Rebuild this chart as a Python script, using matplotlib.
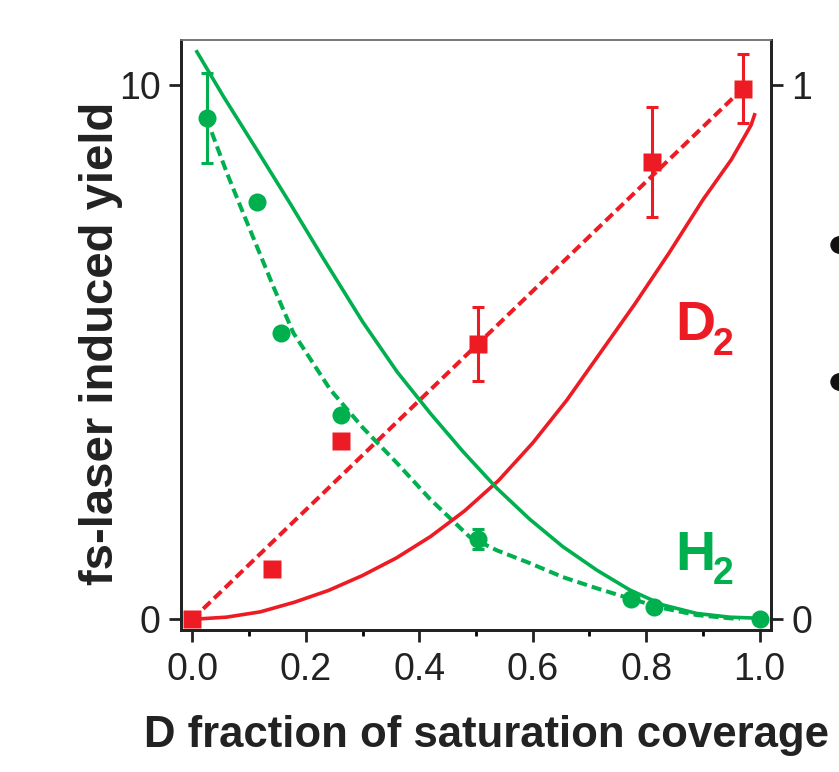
import numpy as np
import matplotlib.pyplot as plt
from matplotlib.patches import Circle

plt.rcParams['font.family'] = ['Liberation Sans', 'DejaVu Sans']

green = '#00b04f'
red = '#ed1c24'

# measured points
cov_h2 = [0.025, 0.114, 0.157, 0.262, 0.504, 0.773, 0.813, 1.0]
yld_h2 = [9.38, 7.81, 5.36, 3.82, 1.50, 0.38, 0.23, 0.0]
err_h2 = [0.85, 0, 0, 0, 0.19, 0, 0, 0]

cov_d2 = [0.0, 0.141, 0.262, 0.504, 0.81, 0.97]
yld_d2 = [0.0, 0.94, 3.33, 5.15, 8.56, 9.93]
err_d2 = [0, 0, 0, 0.7, 1.03, 0.65]

# model curves (solid)
fit_d2_x = [0.0, 0.06, 0.12, 0.18, 0.24, 0.30, 0.36, 0.42, 0.48, 0.54, 0.60, 0.66,
            0.72, 0.78, 0.84, 0.90, 0.95, 0.977, 0.985, 0.991]
fit_d2_y = [0.0, 0.04, 0.14, 0.32, 0.54, 0.82, 1.15, 1.55, 2.03, 2.60, 3.30, 4.10,
            5.00, 5.90, 6.85, 7.85, 8.60, 9.10, 9.25, 9.44]
fit_h2_x = [0.008, 0.055, 0.114, 0.173, 0.231, 0.30, 0.361, 0.419, 0.477, 0.537, 0.595,
            0.653, 0.713, 0.771, 0.829, 0.889, 0.947, 1.0]
fit_h2_y = [10.62, 9.78, 8.78, 7.77, 6.75, 5.57, 4.63, 3.86, 3.14, 2.45, 1.87,
            1.36, 0.92, 0.55, 0.27, 0.11, 0.04, 0.02]

# guide lines (dashed)
guide_d2_x = [0.0, 0.97]
guide_d2_y = [0.0, 9.93]
guide_h2_x = [0.025, 0.037, 0.061, 0.085, 0.114, 0.143, 0.178, 0.243, 0.301, 0.361,
              0.419, 0.489, 0.537, 0.595, 0.653, 0.713, 0.771, 0.829, 0.889, 0.947, 0.965]
guide_h2_y = [9.38, 9.03, 8.35, 7.72, 6.97, 6.22, 5.36, 4.30, 3.58, 2.92,
              2.25, 1.54, 1.29, 1.05, 0.79, 0.58, 0.39, 0.21, 0.08, 0.02, 0.01]

fig = plt.figure(figsize=(8.39, 7.72), dpi=100)
ax = fig.add_axes([181/839, 1-630/772, 590/839, 590/772])

dash = (0, (2.5, 1.25))
ax.plot(guide_d2_x, guide_d2_y, color=red, lw=2.9, ls=dash)
ax.plot(guide_h2_x, guide_h2_y, color=green, lw=2.9, ls=dash)
ax.plot(fit_d2_x, fit_d2_y, color=red, lw=2.6, solid_joinstyle='round')
ax.plot(fit_h2_x, fit_h2_y, color=green, lw=2.6, solid_joinstyle='round')

e = np.array(err_h2)
m = e > 0
ax.errorbar(np.array(cov_h2)[m], np.array(yld_h2)[m], yerr=e[m], fmt='none',
            ecolor=green, elinewidth=2.2, capsize=4.5, capthick=2.2)
e = np.array(err_d2)
m = e > 0
ax.errorbar(np.array(cov_d2)[m], np.array(yld_d2)[m], yerr=e[m], fmt='none',
            ecolor=red, elinewidth=2.2, capsize=4.5, capthick=2.2)

ax.plot(cov_h2, yld_h2, 'o', color=green, ms=13, mec='none', clip_on=False, zorder=5)
ax.plot(cov_d2, yld_d2, 's', color=red, ms=13, mec='none', clip_on=False, zorder=5)

ax.set_xlim(-0.02, 1.02)
ax.set_ylim(-0.2, 10.84)
ax.set_xticks([0.0, 0.2, 0.4, 0.6, 0.8, 1.0])
ax.set_xticklabels(['0.0', '0.2', '0.4', '0.6', '0.8', '1.0'])
ax.set_xticks(np.arange(0.1, 1.0, 0.2), minor=True)
ax.set_yticks([0, 10])
ax.tick_params(axis='both', which='major', direction='out', length=8.5, width=2,
               labelsize=27, pad=6, colors='#222222')
ax.tick_params(axis='x', which='major', pad=7)
ax.tick_params(axis='x', which='minor', direction='out', length=4.5, width=2)

ax2 = ax.twinx()
ax2.set_ylim(-0.02, 1.084)
ax2.set_yticks([0, 1])
ax2.tick_params(axis='y', direction='out', length=8.5, width=2, labelsize=27, pad=6,
                colors='#222222')

for a in (ax, ax2):
    for s in ('left', 'right', 'bottom'):
        a.spines[s].set_linewidth(2)
        a.spines[s].set_color('#222222')
    a.spines['top'].set_linewidth(1.2)
    a.spines['top'].set_color('#777777')

fig.text(675/839, 1-340/772, 'D', color=red, fontsize=40, fontweight='bold')
fig.text(713/839, 1-355/772, '2', color=red, fontsize=27, fontweight='bold')
fig.text(675/839, 1-570/772, 'H', color=green, fontsize=40, fontweight='bold')
fig.text(713/839, 1-584/772, '2', color=green, fontsize=27, fontweight='bold')

fig.text(101/839, 1-343/772, 'fs-laser induced yield', rotation=90, fontsize=34,
         fontweight='bold', ha='center', va='center', color='#222222')
fig.text(486/839, 1-736/772, 'D fraction of saturation coverage', fontsize=31.5,
         fontweight='bold', ha='center', va='center', color='#222222')

# bullets cut off at the right edge
for yy in (245, 382):
    fig.add_artist(Circle((840/839, 1-yy/772), 9/839, transform=fig.transFigure,
                          color='#111111'))

fig.savefig('out.png', dpi=100)
